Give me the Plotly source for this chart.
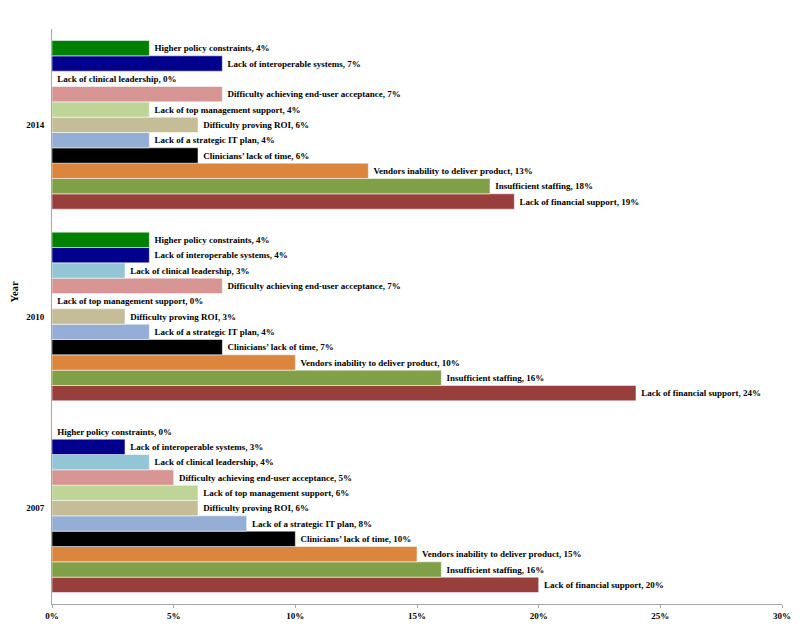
import plotly.graph_objects as go

years = ["2007", "2010", "2014"]
# bottom-to-top order within each year group
series = [
    "Lack of financial support",
    "Insufficient staffing",
    "Vendors inability to deliver product",
    "Clinicians’ lack of time",
    "Lack of a strategic IT plan",
    "Difficulty proving ROI",
    "Lack of top management support",
    "Difficulty achieving end-user acceptance",
    "Lack of clinical leadership",
    "Lack of interoperable systems",
    "Higher policy constraints",
]
values_2007 = [20, 16, 15, 10, 8, 6, 6, 5, 4, 3, 0]
values_2010 = [24, 16, 10, 7, 4, 3, 0, 7, 3, 4, 4]
values_2014 = [19, 18, 13, 6, 4, 6, 4, 7, 0, 7, 4]
colors = ["#983F3C", "#80A048", "#DC853C", "#000000", "#94AED5",
          "#C5BD97", "#BFD598", "#D69593", "#92C6D6", "#00008C", "#008000"]
x_ticks = [0, 5, 10, 15, 20, 25, 30]

fig = go.Figure()
for i, name in enumerate(series):
    vals = [values_2007[i], values_2010[i], values_2014[i]]
    fig.add_trace(go.Bar(
        y=years, x=vals, orientation="h", name=name,
        marker=dict(color=colors[i], line=dict(color="white", width=0.5)),
        text=[f" {name}, {v}%" for v in vals],
        texttemplate="<b>%{text}</b>",
        textposition="outside", cliponaxis=False, constraintext="none",
        textfont=dict(family="Liberation Serif", size=9, color="black"),
    ))

fig.update_layout(
    barmode="group", bargap=0.12, bargroupgap=0,
    width=800, height=634,
    margin=dict(l=52, r=18, t=29, b=30),
    plot_bgcolor="white", paper_bgcolor="white",
    showlegend=False,
    font=dict(family="Liberation Serif", size=9, color="black"),
    annotations=[dict(text="<b>Year</b>", xref="paper", yref="paper",
                      x=-0.052, y=0.542, showarrow=False, textangle=-90,
                      font=dict(size=10.5), xanchor="center", yanchor="middle")],
)
fig.update_xaxes(range=[0, 30], tickvals=x_ticks,
                 ticktext=["<b>%d%%</b>" % v for v in x_ticks],
                 tickfont=dict(size=9),
                 showgrid=False, zeroline=False, showline=True, linecolor="#A6A6A6",
                 ticks="outside", ticklen=3, tickcolor="#A6A6A6", automargin=False)
fig.update_yaxes(tickvals=years, ticktext=["<b>%s</b>" % y for y in years],
                 tickfont=dict(size=9),
                 showgrid=False, showline=True, linecolor="#A6A6A6",
                 ticks="", ticklabelstandoff=5, automargin=False)
fig.write_html("out.html", config={"displayModeBar": False},
               post_script="document.body.style.margin='0px';document.body.style.overflow='hidden';")
